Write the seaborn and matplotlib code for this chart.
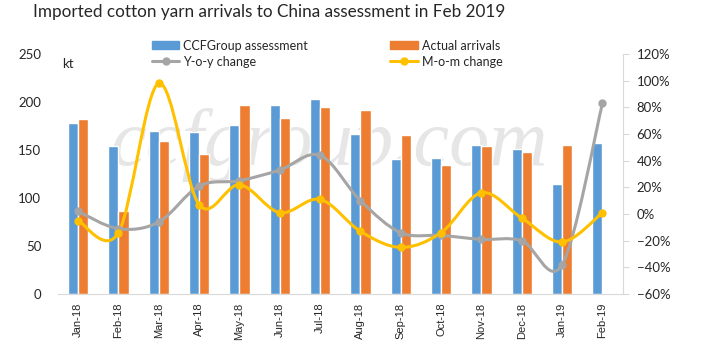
import numpy as np
import pandas as pd
import seaborn as sns
import matplotlib.pyplot as plt
from matplotlib.path import Path
from matplotlib.patches import PathPatch, Patch
from matplotlib.lines import Line2D
from matplotlib.ticker import PercentFormatter, MultipleLocator

months = ['Jan-18', 'Feb-18', 'Mar-18', 'Apr-18', 'May-18', 'Jun-18', 'Jul-18',
          'Aug-18', 'Sep-18', 'Oct-18', 'Nov-18', 'Dec-18', 'Jan-19', 'Feb-19']
ccf = [178, 154, 170, 169, 176, 197, 203, 167, 141, 142, 155, 151, 115, 157]
actual = [182, 86, 159, 146, 197, 183, 195, 192, 166, 134, 154, 148, 155, np.nan]
yoy = [2, -11, -6, 21, 25, 33, 44, 10, -14, -16, -19, -20, -38, 83]
mom = [-5, -14, 98, 7, 22, 1, 11, -13, -25, -14, 16, -3, -21, 1]

BLUE = '#5B9BD5'
ORANGE = '#ED7D31'
GRAY = '#A5A5A5'
YELLOW = '#FFC000'

sns.set_style('white')
plt.rcParams['font.family'] = ['Lato', 'DejaVu Sans']

df = pd.DataFrame({'month': months * 2,
                   'series': ['CCFGroup assessment'] * 14 + ['Actual arrivals'] * 14,
                   'value': ccf + actual})

fig = plt.figure(figsize=(7.24, 3.53), dpi=100)
ax = fig.add_axes([0.080, 0.167, 0.780, 0.680])
ax.patch.set_visible(False)

# watermark
ax.text(0.48, 0.62, 'ccfgroup.com', transform=ax.transAxes, ha='center', va='center',
        fontsize=58, family='Liberation Serif', style='italic', color='#E6E6E6', zorder=0)

sns.barplot(data=df, x='month', y='value', hue='series', palette=[BLUE, ORANGE],
            width=0.5, saturation=1, ax=ax, legend=False, zorder=2)
ax.set_xlim(-0.5, 13.5)
ax.set_ylim(0, 250)
ax.yaxis.set_major_locator(MultipleLocator(50))
ax.set_xlabel('')
ax.set_ylabel('')
for s in ['top', 'right', 'left']:
    ax.spines[s].set_visible(False)
ax.spines['bottom'].set_color('#D9D9D9')
ax.tick_params(axis='y', length=0, labelsize=9.5, pad=12)
ax.tick_params(axis='x', length=0, pad=6)
ax.set_xticks(np.arange(-0.5, 14, 1), minor=True)
ax.tick_params(axis='x', which='minor', length=4, color='#D9D9D9')
for lab in ax.get_xticklabels():
    lab.set_rotation(90)
    lab.set_fontsize(8)
    lab.set_family('Liberation Sans')
ax.text(0.008, 0.985, 'kt', transform=ax.transAxes, fontsize=9.5, va='top')

ax2 = ax.twinx()
ax2.set_ylim(-60, 120)
ax2.yaxis.set_major_locator(MultipleLocator(20))
ax2.yaxis.set_major_formatter(PercentFormatter(decimals=0))
ax2.tick_params(axis='y', length=4, color='#D9D9D9', labelsize=9.5, pad=6)
for s in ['top', 'left', 'bottom']:
    ax2.spines[s].set_visible(False)
ax2.spines['right'].set_color('#D9D9D9')


def smooth_path(xs, ys):
    # bezier path through the points, like Excel's smoothed line
    pts = np.column_stack([xs, ys]).astype(float)
    n = len(pts)
    verts = [pts[0]]
    codes = [Path.MOVETO]
    for i in range(n - 1):
        p0 = pts[i - 1] if i > 0 else pts[i]
        p1 = pts[i]
        p2 = pts[i + 1]
        p3 = pts[i + 2] if i + 2 < n else pts[i + 1]
        verts += [p1 + (p2 - p0) / 6, p2 - (p3 - p1) / 6, p2]
        codes += [Path.CURVE4] * 3
    return Path(verts, codes)


x = np.arange(len(months))
for vals, col in [(yoy, GRAY), (mom, YELLOW)]:
    ax2.add_patch(PathPatch(smooth_path(x, vals), fill=False, edgecolor=col, lw=2.2,
                            capstyle='round', joinstyle='round', zorder=3))
    ax2.plot(x, vals, 'o', color=col, ms=5, zorder=4)

handles = [Patch(color=BLUE), Line2D([], [], color=GRAY, lw=2.2, marker='o', ms=5),
           Patch(color=ORANGE), Line2D([], [], color=YELLOW, lw=2.2, marker='o', ms=5)]
labels = ['CCFGroup assessment', 'Y-o-y change', 'Actual arrivals', 'M-o-m change']
fig.legend(handles, labels, ncol=2, loc='upper left', bbox_to_anchor=(0.201, 0.905),
           frameon=False, fontsize=9, handlelength=2.2, handleheight=0.6,
           columnspacing=6.6, labelspacing=0.3, handletextpad=0.3, borderpad=0)

fig.text(0.046, 0.988, 'Imported cotton yarn arrivals to China assessment in Feb 2019',
         fontsize=12.3, va='top', ha='left')

fig.savefig('out.png', dpi=100)
